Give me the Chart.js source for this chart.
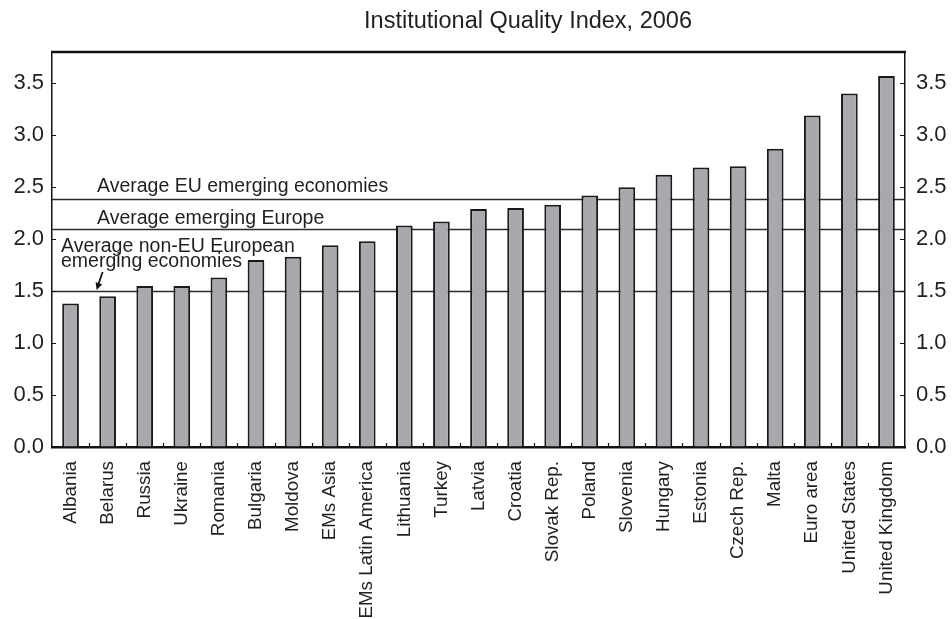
<!DOCTYPE html>
<html>
<head>
<meta charset="utf-8">
<script src="https://cdn.jsdelivr.net/npm/chart.js@4.4.0/dist/chart.umd.min.js"></script>
<style>
  html, body { margin: 0; padding: 0; background: #fff; }
</style>
</head>
<body>
<canvas id="iqiChart" width="952" height="619"></canvas>
<script>
const countries = ['Albania', 'Belarus', 'Russia', 'Ukraine', 'Romania', 'Bulgaria', 'Moldova',
    'EMs Asia', 'EMs Latin America', 'Lithuania', 'Turkey', 'Latvia', 'Croatia', 'Slovak Rep.',
    'Poland', 'Slovenia', 'Hungary', 'Estonia', 'Czech Rep.', 'Malta', 'Euro area',
    'United States', 'United Kingdom'];
const iqiValues = [1.38, 1.45, 1.55, 1.55, 1.63, 1.80, 1.83, 1.94, 1.98, 2.13, 2.17, 2.29,
    2.30, 2.33, 2.42, 2.50, 2.62, 2.69, 2.70, 2.87, 3.19, 3.40, 3.57];
const averageValues = [2.39, 2.10, 1.50];
const averageLabels = [
    ['Average EU emerging economies'],
    ['Average emerging Europe'],
    ['Average non-EU European', 'emerging economies']
];
const yTicks = [0, 0.5, 1.0, 1.5, 2.0, 2.5, 3.0, 3.5];
const chartTitle = 'Institutional Quality Index, 2006';

const FONT = "'Liberation Sans', Arial, Helvetica, sans-serif";
const INK = '#231f20';

// average lines + their labels, drawn under the bars
const averagesPlugin = {
    id: 'averages',
    beforeDatasetsDraw(chart) {
        const { ctx, chartArea: a, scales: { x, y } } = chart;
        ctx.save();
        ctx.strokeStyle = '#2b2b2b';
        ctx.lineWidth = 1.5;
        averageValues.forEach(v => {
            const py = Math.round(y.getPixelForValue(v)) + 0.5;
            ctx.beginPath();
            ctx.moveTo(a.left, py);
            ctx.lineTo(a.right, py);
            ctx.stroke();
        });

        ctx.fillStyle = INK;
        ctx.font = '19.5px ' + FONT;
        ctx.textBaseline = 'alphabetic';
        ctx.textAlign = 'left';
        const py0 = y.getPixelForValue(averageValues[0]);
        ctx.fillText(averageLabels[0][0], a.left + 45, py0 - 7);
        const py1 = y.getPixelForValue(averageValues[1]);
        ctx.fillText(averageLabels[1][0], a.left + 45, py1 - 5);
        const py2 = y.getPixelForValue(averageValues[2]);
        ctx.fillText(averageLabels[2][0], a.left + 9, py2 - 39.5);
        ctx.fillText(averageLabels[2][1], a.left + 9, py2 - 24);

        // arrow pointing at the non-EU line
        const tipX = x.getPixelForValue(1) - 11;
        const tipY = py2 - 1;
        const fromX = tipX + 6, fromY = tipY - 18;
        ctx.strokeStyle = '#111';
        ctx.lineWidth = 1.8;
        ctx.beginPath();
        ctx.moveTo(fromX, fromY);
        ctx.lineTo(tipX + 1.5, tipY - 5);
        ctx.stroke();
        const ang = Math.atan2(tipY - fromY, tipX - fromX);
        ctx.fillStyle = '#111';
        ctx.beginPath();
        ctx.moveTo(tipX, tipY);
        ctx.lineTo(tipX - 8 * Math.cos(ang - 0.45), tipY - 8 * Math.sin(ang - 0.45));
        ctx.lineTo(tipX - 8 * Math.cos(ang + 0.45), tipY - 8 * Math.sin(ang + 0.45));
        ctx.closePath();
        ctx.fill();
        ctx.restore();
    }
};

// frame top, inward ticks, title
const framePlugin = {
    id: 'frame',
    afterDraw(chart) {
        const { ctx, chartArea: a, scales: { x, y } } = chart;
        ctx.save();
        ctx.strokeStyle = '#111';
        ctx.lineWidth = 2.5;
        ctx.beginPath();
        ctx.moveTo(a.left - 1, a.top);
        ctx.lineTo(a.right + 1, a.top);
        ctx.stroke();

        ctx.lineWidth = 1.2;
        yTicks.forEach(v => {
            if (v === 0) return;
            const py = Math.round(y.getPixelForValue(v)) + 0.5;
            ctx.beginPath();
            ctx.moveTo(a.left, py);
            ctx.lineTo(a.left + 4, py);
            ctx.moveTo(a.right - 5, py);
            ctx.lineTo(a.right, py);
            ctx.stroke();
        });
        for (let i = 1; i < countries.length; i++) {
            const px = Math.round((x.getPixelForValue(i - 1) + x.getPixelForValue(i)) / 2) + 0.5;
            ctx.beginPath();
            ctx.moveTo(px, a.bottom);
            ctx.lineTo(px, a.bottom - 4);
            ctx.stroke();
        }

        ctx.fillStyle = INK;
        ctx.font = '23.5px ' + FONT;
        ctx.textAlign = 'center';
        ctx.textBaseline = 'middle';
        ctx.fillText(chartTitle, 528, 22);
        ctx.restore();
    }
};

const yAxis = (position, width, pad) => ({
    position: position,
    min: 0,
    max: 3.8,
    afterBuildTicks: scale => { scale.ticks = yTicks.map(v => ({ value: v })); },
    afterFit: scale => { scale.width = width; },
    grid: { display: true, drawOnChartArea: false, drawTicks: false },
    border: { display: true, color: '#111', width: 1.5 },
    ticks: {
        padding: pad,
        color: INK,
        font: { family: FONT, size: 22 },
        callback: v => Number(v).toFixed(1)
    }
});

const ctx = document.getElementById('iqiChart').getContext('2d');
const iqiChart = new Chart(ctx, {
    type: 'bar',
    data: {
        labels: countries,
        datasets: [{
            label: 'Institutional Quality Index',
            data: iqiValues,
            yAxisID: 'y',
            backgroundColor: '#a7a9ac',
            borderColor: '#1a1a1a',
            borderWidth: 2,
            barPercentage: 0.45,
            categoryPercentage: 1.0
        }]
    },
    options: {
        responsive: false,
        animation: false,
        layout: { padding: { top: 52, left: 0, right: 0, bottom: 0 } },
        plugins: {
            legend: { display: false },
            tooltip: { enabled: false },
            title: { display: false }
        },
        scales: {
            x: {
                afterFit: scale => { scale.height = 172; },
                grid: { display: true, drawOnChartArea: false, drawTicks: false },
                border: { display: true, color: '#111', width: 2.5 },
                ticks: {
                    padding: 14,
                    minRotation: 90,
                    maxRotation: 90,
                    autoSkip: false,
                    color: INK,
                    font: { family: FONT, size: 18.8 }
                }
            },
            y: yAxis('left', 52, 8),
            y2: yAxis('right', 47, 11)
        }
    },
    plugins: [averagesPlugin, framePlugin]
});
</script>
</body>
</html>
